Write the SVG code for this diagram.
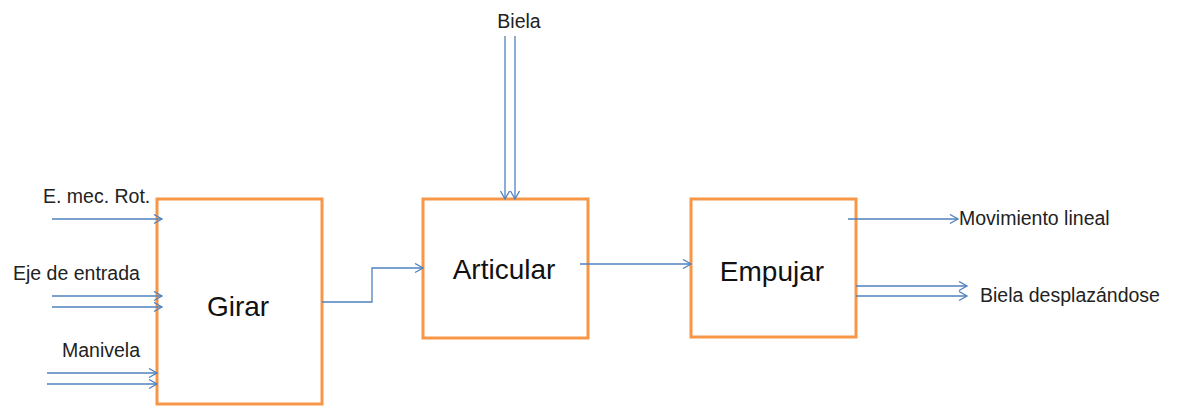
<svg xmlns="http://www.w3.org/2000/svg" width="1179" height="409" viewBox="0 0 1179 409">
<style>
.box{fill:#fff;stroke:#F79646;stroke-width:3}
.big{font-family:"Liberation Sans",Arial,sans-serif;font-size:28px;fill:#111;text-anchor:middle}
.lbl{font-family:"Liberation Sans",Arial,sans-serif;font-size:19.5px;fill:#222}
.c{fill:none;stroke:#4F81BD;stroke-width:1.3;marker-end:url(#ar)}
</style>
<defs>
<marker id="ar" markerUnits="userSpaceOnUse" markerWidth="12" markerHeight="12" refX="9" refY="5" orient="auto">
<path d="M1,0.5 L9,5 L1,9.5" fill="none" stroke="#4F81BD" stroke-width="1.3"/>
</marker>
</defs>
<rect width="1179" height="409" fill="#fff"/>
<g id="girar"><rect class="box" x="157" y="199" width="165" height="205"/><text class="big" x="238" y="316">Girar</text></g>
<g id="articular"><rect class="box" x="423" y="199" width="165" height="139"/><text class="big" x="504" y="279">Articular</text></g>
<g id="empujar"><rect class="box" x="691" y="199" width="165" height="138"/><text class="big" x="772" y="281">Empujar</text></g>
<g id="labels">
<text class="lbl" x="43" y="203">E. mec. Rot.</text>
<text class="lbl" x="13" y="280">Eje de entrada</text>
<text class="lbl" x="62" y="357">Manivela</text>
<text class="lbl" x="519" y="28" text-anchor="middle">Biela</text>
<text class="lbl" x="959" y="225">Movimiento lineal</text>
<text class="lbl" x="980" y="302">Biela desplazándose</text>
</g>
<g id="connectors">
<path class="c" d="M52,219 H162"/>
<path class="c" d="M52,296 H162"/>
<path class="c" d="M52,307 H162"/>
<path class="c" d="M47,373 H157"/>
<path class="c" d="M47,384 H157"/>
<path class="c" d="M505,36 V199"/>
<path class="c" d="M515,36 V199"/>
<path class="c" d="M322,302 H372 V268 H423"/>
<path class="c" d="M580,264 H691"/>
<path class="c" d="M848,219 H958"/>
<path class="c" d="M856,286 H967"/>
<path class="c" d="M856,296 H967"/>
</g>
</svg>
